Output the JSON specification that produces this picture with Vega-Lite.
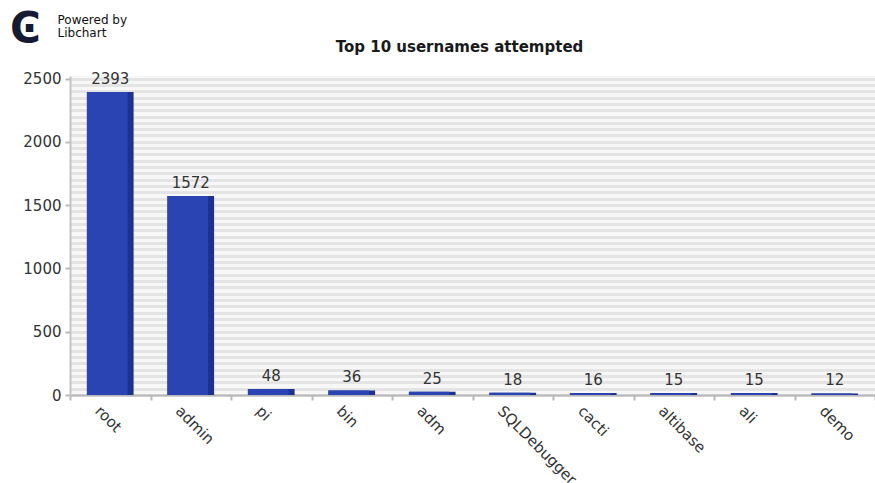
{
  "$schema": "https://vega.github.io/schema/vega-lite/v6.json",
  "autosize": {"type": "none"},
  "width": 805,
  "height": 319,
  "padding": {"left": 70, "top": 76, "right": 0, "bottom": 88},
  "background": "#ffffff",
  "title": {
    "text": "Top 10 usernames attempted",
    "anchor": "middle",
    "dx": -13,
    "offset": 22,
    "dy": 70,
    "font": "DejaVu Sans",
    "fontSize": 15,
    "fontWeight": "bold",
    "color": "#1a1a1a"
  },
  "config": {
    "view": {"stroke": null, "fill": "#f7f7f7"},
    "font": "DejaVu Sans"
  },
  "data": {
    "values": [
      {"username": "root", "attempts": 2393},
      {"username": "admin", "attempts": 1572},
      {"username": "pi", "attempts": 48},
      {"username": "bin", "attempts": 36},
      {"username": "adm", "attempts": 25},
      {"username": "SQLDebugger", "attempts": 18},
      {"username": "cacti", "attempts": 16},
      {"username": "altibase", "attempts": 15},
      {"username": "ali", "attempts": 15},
      {"username": "demo", "attempts": 12}
    ]
  },
  "encoding": {
    "x": {
      "field": "username",
      "type": "nominal",
      "sort": null,
      "scale": {"paddingInner": 0, "paddingOuter": 0},
      "axis": {
        "title": "Ͼ",
        "titleFont": "DejaVu Sans",
        "titleFontSize": 42,
        "titleFontWeight": "bold",
        "titleColor": "#141a33",
        "titleAlign": "center",
        "titleBaseline": "middle",
        "titleX": -45,
        "titleY": -367,
        "labelAngle": 45,
        "labelAlign": "left",
        "labelBaseline": "top",
        "labelOffset": -8,
        "labelPadding": 3,
        "labelFontSize": 15,
        "labelColor": "#333333",
        "domainColor": "#b8b8b8",
        "domainWidth": 2,
        "tickBand": "extent",
        "tickColor": "#b8b8b8",
        "tickWidth": 2,
        "tickSize": 5,
        "grid": false
      }
    },
    "y": {
      "field": "attempts",
      "type": "quantitative",
      "scale": {"domain": [0, 2520], "nice": false},
      "axis": {
        "title": ["Powered by", "Libchart"],
        "titleAngle": 0,
        "titleAlign": "left",
        "titleBaseline": "top",
        "titleX": -13,
        "titleY": -62,
        "titleFont": "DejaVu Sans",
        "titleFontSize": 12,
        "titleFontWeight": "normal",
        "titleLineHeight": 13,
        "titleColor": "#111111",
        "tickCount": 50,
        "labelOverlap": false,
        "labelExpr": "datum.value % 500 === 0 ? datum.label : ''",
        "format": "d",
        "labelFontSize": 15,
        "labelColor": "#333333",
        "labelPadding": 4,
        "domainColor": "#c4c4c4",
        "domainWidth": 2,
        "tickSize": 5,
        "tickWidth": 2,
        "tickColor": "#b8b8b8",
        "tickOpacity": {"condition": {"test": "datum.value % 500 === 0", "value": 1}, "value": 0},
        "grid": true,
        "gridColor": "#e4e4e4",
        "gridWidth": 3
      }
    }
  },
  "layer": [
    {
      "mark": {"type": "bar", "width": {"band": 0.58}, "color": "#1f318f"}
    },
    {
      "mark": {"type": "bar", "width": {"band": 0.505}, "xOffset": -3, "color": "#2b44b4"}
    },
    {
      "mark": {"type": "text", "dy": -8, "baseline": "alphabetic", "fontSize": 15, "color": "#333333"},
      "encoding": {"text": {"field": "attempts", "type": "quantitative"}}
    }
  ]
}
